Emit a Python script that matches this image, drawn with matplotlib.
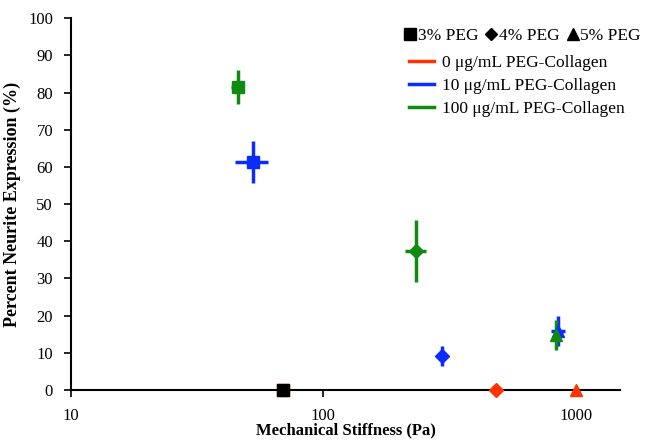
import numpy as np
import matplotlib
matplotlib.use('Agg')
from matplotlib import pyplot as plt
from matplotlib.lines import Line2D

plt.rcParams['font.family'] = ['Liberation Serif', 'DejaVu Serif']

# Data
stiffness = [69.0, 482.0, 1000.0, 52.5, 294.0, 850.0, 45.7, 233.0, 834.0]
stiffness_err = [0.0, 0.0, 0.0, 8.0, 0.0, 55.0, 2.5, 23.0, 0.0]
neurite = [0.0, 0.0, 0.0, 61.4, 9.2, 15.9, 81.4, 37.4, 14.8]
neurite_err = [0.0, 0.0, 0.0, 5.6, 2.7, 4.0, 4.6, 8.3, 4.0]
peg = ['3%', '4%', '5%', '3%', '4%', '5%', '3%', '4%', '5%']
collagen = [0, 0, 0, 10, 10, 10, 100, 100, 100]

markers = {'3%': 's', '4%': 'D', '5%': '^'}
msizes = {'3%': 9, '4%': 7, '5%': 9}
colors = {0: '#ff3300', 10: '#0a2cff', 100: '#118a11'}

fig = plt.figure(figsize=(6.46, 4.44), dpi=100)
ax = fig.add_axes([0.11, 0.1216, 0.85, 0.8375])

for x, xe, y, ye, p, c in zip(stiffness, stiffness_err, neurite, neurite_err, peg, collagen):
    ax.errorbar(x, y, xerr=xe if xe else None, yerr=ye if ye else None,
                fmt=markers[p], color=colors[c], ms=msizes[p], mec=colors[c],
                elinewidth=2.5, capsize=0, zorder=3, clip_on=False)

# black square drawn on top of the 3% PEG / 0 ug/mL point
ax.plot(stiffness[0], neurite[0], 's', color='black', ms=9, zorder=4, clip_on=False)

ax.set_xscale('log')
ax.set_xlim(10, 1500)
ax.set_ylim(0, 100)
ax.set_yticks(np.arange(0, 101, 10))
ax.set_xticks([10, 100, 1000])
ax.set_xticklabels(['10', '100', '1000'])
ax.xaxis.set_minor_locator(matplotlib.ticker.NullLocator())
ax.spines['top'].set_visible(False)
ax.spines['right'].set_visible(False)
ax.spines['left'].set_linewidth(1.5)
ax.spines['bottom'].set_linewidth(1.5)
ax.tick_params(axis='both', labelsize=12, width=1.2, length=5, direction='out', pad=8)
ax.set_xlabel('Mechanical Stiffness (Pa)', fontsize=12, fontweight='bold', labelpad=-1)
ax.set_ylabel('Percent Neurite Expression (%)', fontsize=13, fontweight='bold', labelpad=5)

# legends: marker shapes in one row, collagen colours as lines
shape_handles = [Line2D([], [], ls='none', marker=markers[p], color='black', ms=8 if p != '4%' else 6)
                 for p in ['3%', '4%', '5%']]
leg1 = fig.legend(shape_handles, ['3% PEG', '4% PEG', '5% PEG'], ncol=3, frameon=False,
                  loc='upper right', bbox_to_anchor=(1.003, 0.952), fontsize=12.5,
                  handlelength=0.6, handletextpad=0.15, columnspacing=0.45, borderaxespad=0)
line_handles = [Line2D([], [], color=colors[c], lw=2.5) for c in [0, 10, 100]]
leg2 = fig.legend(line_handles, ['0 \u03bcg/mL PEG-Collagen', '10 \u03bcg/mL PEG-Collagen',
                                 '100 \u03bcg/mL PEG-Collagen'],
                  frameon=False, loc='upper left', bbox_to_anchor=(0.623, 0.893),
                  fontsize=12.5, handlelength=1.4, handletextpad=0.45, labelspacing=0.42,
                  borderaxespad=0)

fig.savefig('out.png', dpi=100)
